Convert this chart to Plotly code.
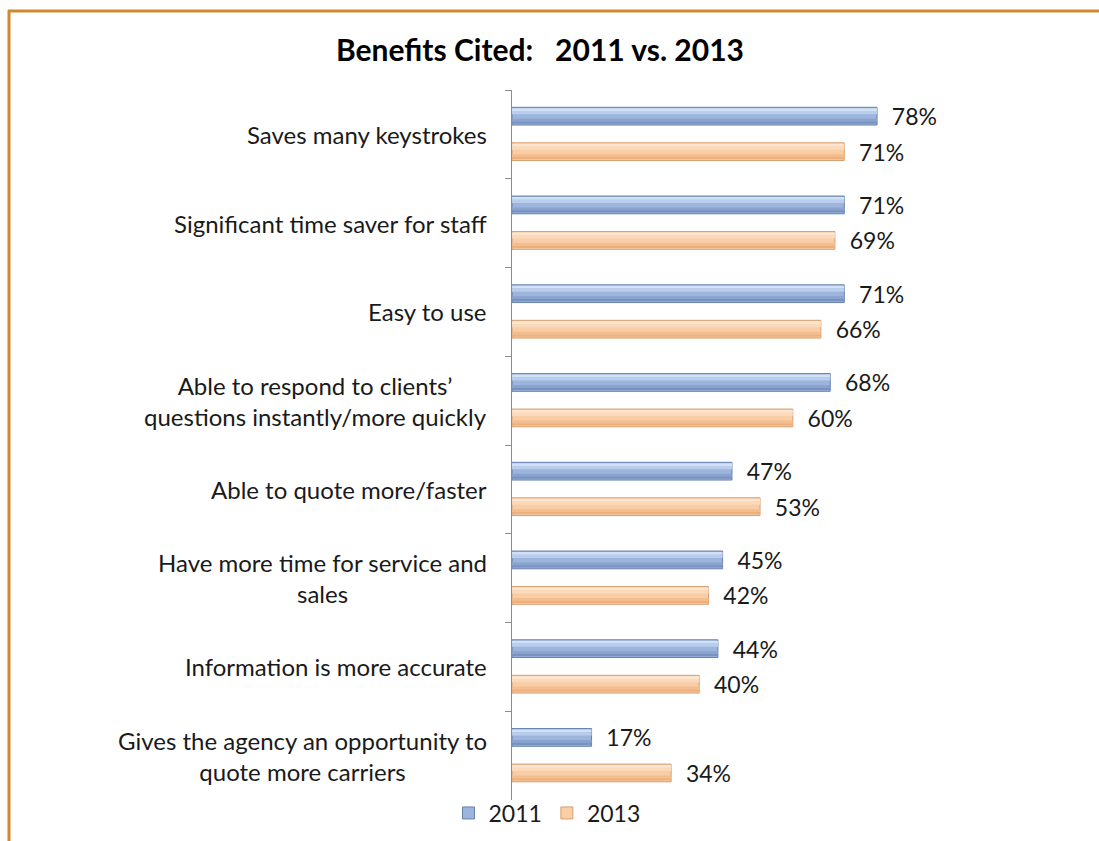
import plotly.graph_objects as go

categories = [
    "Saves many keystrokes",
    "Significant time saver for staff",
    "Easy to use",
    "Able to respond to clients’<br>questions instantly/more quickly",
    "Able to quote more/faster",
    "Have more time for service and<br>sales",
    "Information is more accurate",
    "Gives the agency an opportunity to<br>quote more carriers",
]
values_2011 = [78, 71, 71, 68, 47, 45, 44, 17]
values_2013 = [71, 69, 66, 60, 53, 42, 40, 34]
series_names = ["2011", "2013"]

W, H = 1099, 841
L, R, T, B = 512, 119, 90, 41
PW, PH = W - L - R, H - T - B


def px_x(p):
    return (p - L) / PW


def px_y(p):
    return (H - B - p) / PH


FONT = "Lato, 'Open Sans', sans-serif"

fig = go.Figure()

styles = [
    dict(name=series_names[0], vals=values_2011, off=-0.305, fill="#9DB5DC", line="#6680AD",
         strips=[(0.012, 0.03, "#D2E1F6"), (0.042, 0.035, "#B9CDEC"),
                 (0.13, 0.03, "#8AA3CD"), (0.16, 0.025, "#7892C0")]),
    dict(name=series_names[1], vals=values_2013, off=0.095, fill="#F9CDA6", line="#D59F6E",
         strips=[(0.012, 0.03, "#FDE6D1"), (0.042, 0.035, "#FBD9BA"),
                 (0.13, 0.03, "#F3BD8E"), (0.16, 0.025, "#ECB07E")]),
]

for s in styles:
    fig.add_trace(go.Bar(
        y=categories, x=s["vals"], orientation="h", name=s["name"],
        offset=s["off"], width=0.2,
        marker=dict(color=s["fill"], line=dict(color=s["line"], width=1)),
        texttemplate="\u00a0\u00a0%{x}%", textposition="outside", constraintext="none",
        textfont=dict(family=FONT, size=23, color="#1a1a1a"),
        cliponaxis=False, showlegend=True,
    ))
    for (d, w, col) in s["strips"]:
        fig.add_trace(go.Bar(
            y=categories, x=s["vals"], orientation="h", name=s["name"],
            offset=s["off"] + d, width=w,
            marker=dict(color=col, line=dict(width=0)),
            showlegend=False, hoverinfo="skip",
        ))

annotations = []
for c in categories:
    annotations.append(dict(
        x=px_x(489), xref="paper", y=c, yref="y", text=c,
        xanchor="right", yanchor="middle", align="center", showarrow=False,
        font=dict(family=FONT, size=24, color="#1a1a1a"),
    ))

border = "#D08A2E"
shapes = [
    dict(type="line", xref="paper", yref="paper", x0=px_x(8), x1=px_x(W + 5),
         y0=px_y(11), y1=px_y(11), line=dict(color=border, width=3)),
    dict(type="line", xref="paper", yref="paper", x0=px_x(9), x1=px_x(9),
         y0=px_y(10), y1=px_y(H + 5), line=dict(color=border, width=3)),
]

fig.update_layout(
    width=W, height=H,
    margin=dict(l=L, r=R, t=T, b=B, autoexpand=False),
    paper_bgcolor="white", plot_bgcolor="white",
    barmode="overlay",
    title=dict(text="<b>Benefits Cited:\u00a0\u00a0\u00a02011 vs. 2013</b>",
               x=540 / W, xref="container", xanchor="center",
               y=1 - 50 / H, yref="container", yanchor="middle",
               font=dict(family=FONT, size=30, color="#000")),
    xaxis=dict(range=[0, 100], visible=False, fixedrange=True),
    yaxis=dict(type="category", range=[7.5, -0.5], showline=True, linecolor="#8c8c8c",
               linewidth=1, ticks="outside", ticklen=6, tickcolor="#8c8c8c",
               tickson="boundaries", showticklabels=False, showgrid=False, zeroline=False),
    legend=dict(orientation="h", x=px_x(547), xanchor="center", y=px_y(813), yanchor="middle",
                font=dict(family=FONT, size=23, color="#1a1a1a"), bgcolor="rgba(0,0,0,0)",
                itemwidth=30, tracegroupgap=0),
    annotations=annotations,
    shapes=shapes,
    showlegend=True,
)

fig.write_html("out.html")
